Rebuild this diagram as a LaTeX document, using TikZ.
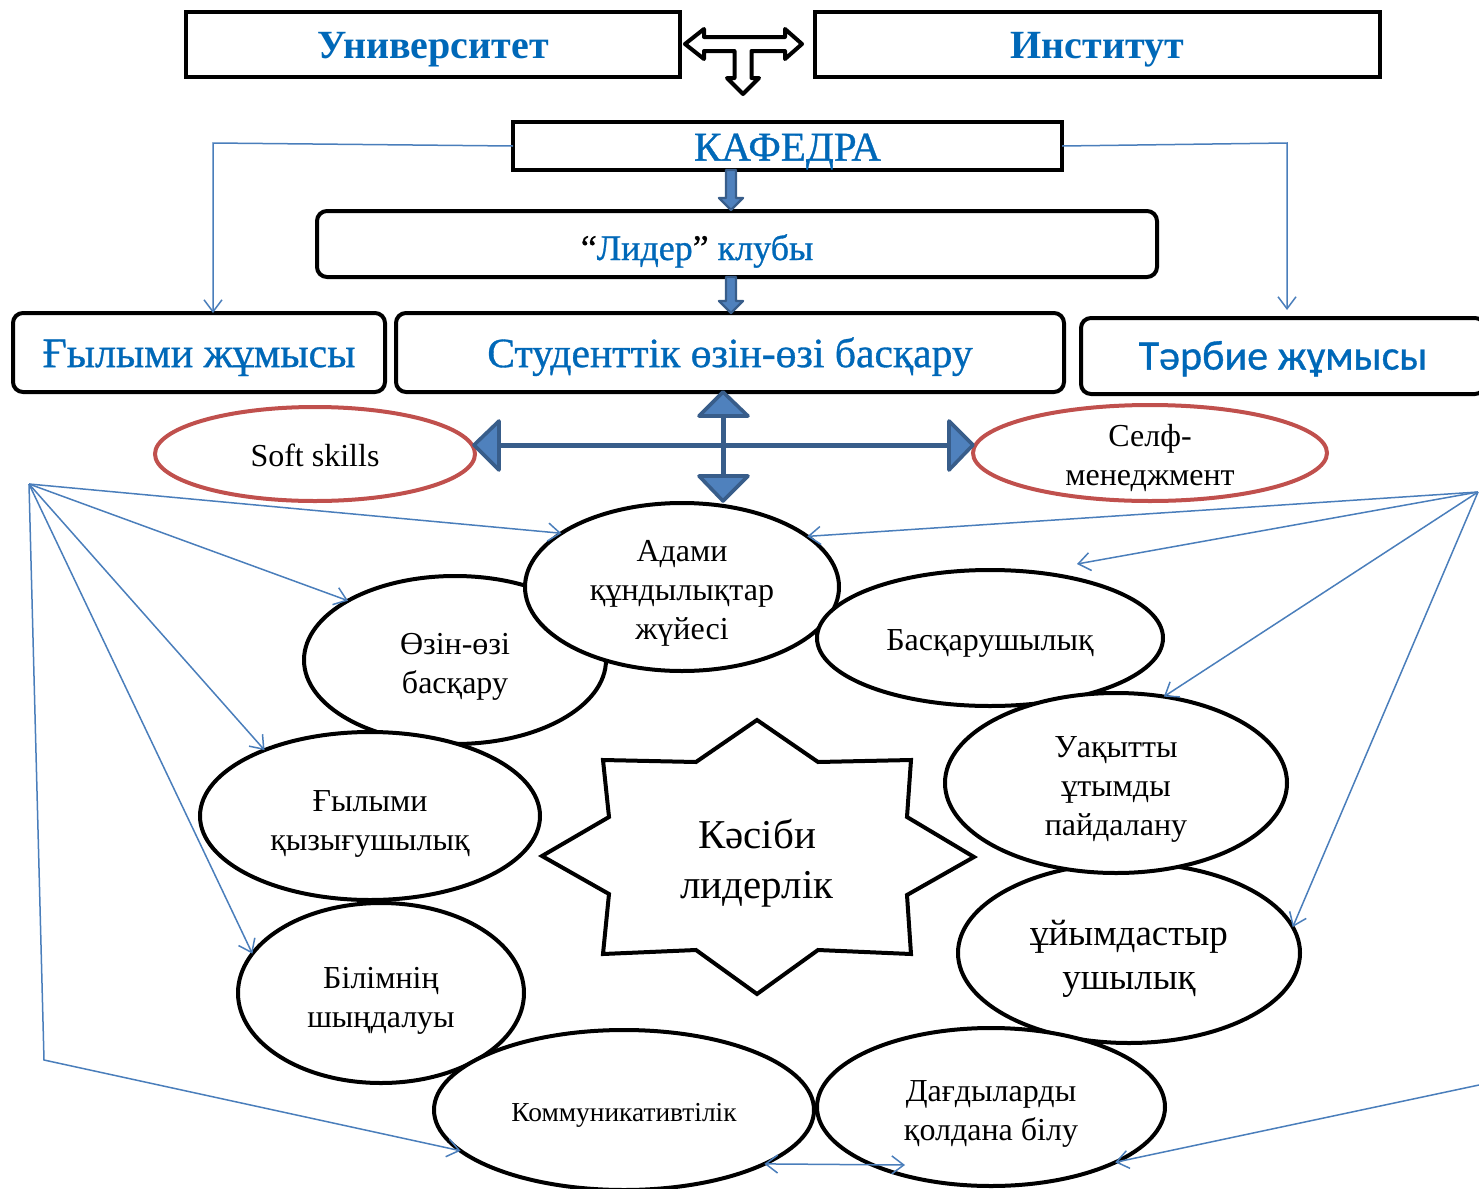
\documentclass[tikz,border=0pt]{standalone}
\usepackage{fontspec}
\setmainfont{Liberation Serif}
\newfontfamily\calib[FakeBold=0.8]{Carlito}
\newfontfamily\heavyserif[FakeBold=0.8]{Liberation Serif}
\usetikzlibrary{shapes.geometric,arrows.meta,calc}
\definecolor{tblue}{RGB}{0,104,184}
\definecolor{lblue}{RGB}{74,126,187}
\definecolor{bfill}{RGB}{79,129,189}
\definecolor{bdark}{RGB}{56,93,138}
\definecolor{rred}{RGB}{192,80,77}
\newcommand\lowtxt[2][2.8pt]{\raisebox{-#1}[\height][\depth]{\begin{tabular}{@{}c@{}}#2\end{tabular}}}
\begin{document}
\begin{tikzpicture}[x=0.5pt,y=-0.5pt,
 sqbox/.style={draw=black,line width=2pt,fill=white,inner sep=0pt,outer sep=0pt},
 rbox/.style={sqbox,rounded corners=5pt},
 ell/.style={ellipse,draw=black,line width=2pt,fill=white,inner sep=0pt,outer sep=0pt,font=\fontsize{16}{19.5}\selectfont},
 rell/.style={ellipse,draw=rred,line width=2pt,fill=white,inner sep=0pt,outer sep=0pt,font=\fontsize{16}{19.5}\selectfont},
 tharr/.style={draw=lblue,line width=0.75pt,-{Straight Barb[length=6pt,width=9pt]}},
 blk/.style={fill=bfill,draw=bdark,line width=1.2pt,line join=round},
 bigt/.style={font=\heavyserif\fontsize{20}{24}\selectfont,text=tblue},
]
\useasboundingbox (0,0) rectangle (1479,1189);

% top boxes
\node[sqbox,bigt,font=\fontsize{20}{24}\selectfont\bfseries,minimum width=247pt,minimum height=32.5pt] (uni) at (433,44.5) {\lowtxt[2pt]{Университет}};
\node[sqbox,bigt,font=\fontsize{20}{24}\selectfont\bfseries,minimum width=282.5pt,minimum height=32.5pt] (inst) at (1097.5,44.5) {\lowtxt[2pt]{Институт}};
% T arrow
\coordinate (tc) at (743,44);
\begin{scope}[shift={(tc)}]
\draw[line width=2pt,fill=white,line join=round] (-58,0) -- (-39,-15) -- (-39,-7) -- (42,-7) -- (42,-15) -- (59,0) -- (42,15) -- (42,7) -- (8.5,7) -- (8.5,34) -- (16,34) -- (0,50) -- (-16,34) -- (-8.5,34) -- (-8.5,7) -- (-39,7) -- (-39,15) -- cycle;
\end{scope}

\node[sqbox,bigt,font=\heavyserif\fontsize{20.5}{24}\selectfont,minimum width=274.5pt,minimum height=24pt] (kaf) at (787.5,146) {\lowtxt[2.5pt]{КАФЕДРА}};
\node[rbox,minimum width=420pt,minimum height=33pt] (lider) at (737,244) {};
\node[font=\heavyserif\fontsize{18}{21}\selectfont] (lidert) at (697,251) {“\textcolor{tblue}{Лидер}” \textcolor{tblue}{клубы}};

\node[rbox,bigt,font=\heavyserif\fontsize{21}{24}\selectfont,minimum width=186pt,minimum height=39.5pt] (gyl) at (199,352.5) {\lowtxt[2.5pt]{Ғылыми жұмысы}};
\node[rbox,bigt,font=\heavyserif\fontsize{20.8}{24}\selectfont,minimum width=334pt,minimum height=39.5pt] (stud) at (730,352.5) {\lowtxt[2.5pt]{Студенттік өзін-өзі басқару}};
\node[rbox,bigt,font=\calib\fontsize{21}{24}\selectfont,minimum width=202pt,minimum height=38pt] (tar) at (1283,356) {\lowtxt[2pt]{Тәрбие жұмысы}};

% block arrows
\begin{scope}[shift={($(kaf.south)+(-56.5,0)$)}]
\filldraw[blk] (-5,0) -- (5,0) -- (5,28) -- (12,28) -- (0,40) -- (-12,28) -- (-5,28) -- cycle;
\end{scope}
\begin{scope}[shift={($(lider.south)+(-6,0)$)}]
\filldraw[blk] (-5,0) -- (5,0) -- (5,24) -- (12,24) -- (0,36) -- (-12,24) -- (-5,24) -- cycle;
\end{scope}

% red ellipses
\node[rell,minimum width=160pt,minimum height=47pt] (soft) at (315,454) {\lowtxt[2.3pt]{Soft skills}};
\node[rell,inner ysep=-5pt,minimum width=177pt,minimum height=48pt] (self) at (1150,453) {\lowtxt[2.5pt]{Селф-\\менеджмент}};

% cross arrow
\coordinate (cx) at (723,445);
\begin{scope}[shift={(cx)}]
\draw[bdark,line width=2.5pt] (-226,0) -- (228,0);
\draw[bdark,line width=2.5pt] (0,-30) -- (0,32);
\filldraw[blk,line width=1.8pt] (-249,0) -- (-224,-24) -- (-224,25) -- cycle;
\filldraw[blk,line width=1.8pt] (250,0) -- (226,-24) -- (226,25) -- cycle;
\filldraw[blk,line width=1.8pt] (0,-53) -- (-24,-29) -- (25,-29) -- cycle;
\filldraw[blk,line width=1.8pt] (0,56) -- (-24,31) -- (25,31) -- cycle;
\end{scope}

% black ellipses
\node[ell,minimum width=151pt,minimum height=84pt] (ozin) at (455,660) {\lowtxt[3pt]{Өзін-өзі\\басқару}};
\node[ell,minimum width=157pt,minimum height=84pt] (adami) at (682,587) {\lowtxt[3pt]{Адами\\құндылықтар\\жүйесі}};
\node[ell,minimum width=173pt,minimum height=68pt] (bask) at (990,638) {\lowtxt[2.5pt]{Басқарушылық}};
\node[ell,minimum width=170pt,minimum height=84pt] (gylymi) at (370,816) {\lowtxt[3.5pt]{Ғылыми\\қызығушылық}};
\node[ell,minimum width=143pt,minimum height=90pt] (bilim) at (381,993) {\lowtxt[3.5pt]{Білімнің\\шыңдалуы}};
\node[ell,minimum width=190pt,minimum height=80pt,font=\fontsize{13.7}{16}\selectfont] (komm) at (624,1110) {\lowtxt[2.5pt]{Коммуникативтілік}};
\node[ell,minimum width=171pt,minimum height=90pt,font=\fontsize{18.5}{22}\selectfont] (uyym) at (1129,953) {\lowtxt[3pt]{ұйымдастыр\\ушылық}};
\node[ell,minimum width=171pt,minimum height=90pt] (uaq) at (1116,783) {\lowtxt[3pt]{Уақытты\\ұтымды\\пайдалану}};
\node[ell,minimum width=174pt,minimum height=79pt] (dagd) at (991,1107) {\lowtxt[3pt]{Дағдыларды\\қолдана білу}};

% star
\draw[line width=2pt,fill=white,line join=miter] (757,720) -- (696,762) -- (603,760) -- (609,817) -- (542,856) -- (609,894) -- (603,954) -- (696,950) -- (757,994) -- (818,950) -- (911,954) -- (907,895) -- (974,857) -- (907,817) -- (911,760) -- (818,762) -- cycle;
\node[font=\fontsize{20.5}{25}\selectfont] (kas) at (757,860) {\lowtxt[1.5pt]{Кәсіби\\лидерлік}};

% thin arrows
\coordinate (L) at (29,484);
\coordinate (Lb) at (44,1060);
\coordinate (R) at (1478,492);
\coordinate (R3) at (1479,1085);
\coordinate (kl) at (213,143);
\coordinate (kr) at (1287,143);
\coordinate (bt) at (1077,564);
\coordinate (dd) at (905,1165);

\draw[tharr] (kaf.west) -- (kl) -- (kl |- gyl.north);
\draw[tharr] (kaf.east) -- (kr) -- ([yshift=4pt]kr |- tar.north);
\draw[tharr] (L) -- (adami.156);
\draw[tharr] (L) -- (ozin.151);
\draw[tharr] (L) -- (gylymi.148);
\draw[tharr] (L) -- (bilim.163);
\draw[tharr] (L) -- (Lb) -- (komm.194);
\draw[tharr] (R) -- (adami.22);
\draw[tharr] (R) -- (bt);
\draw[tharr] (R) -- (uaq.61);
\draw[tharr] (R) -- (uyym.9);
\draw[tharr] (R3) -- (dagd.-24);
\draw[tharr,{Straight Barb[length=6pt,width=9pt]}-{Straight Barb[length=6pt,width=9pt]}] (komm.-21) -- (dd);
\end{tikzpicture}
\end{document}
